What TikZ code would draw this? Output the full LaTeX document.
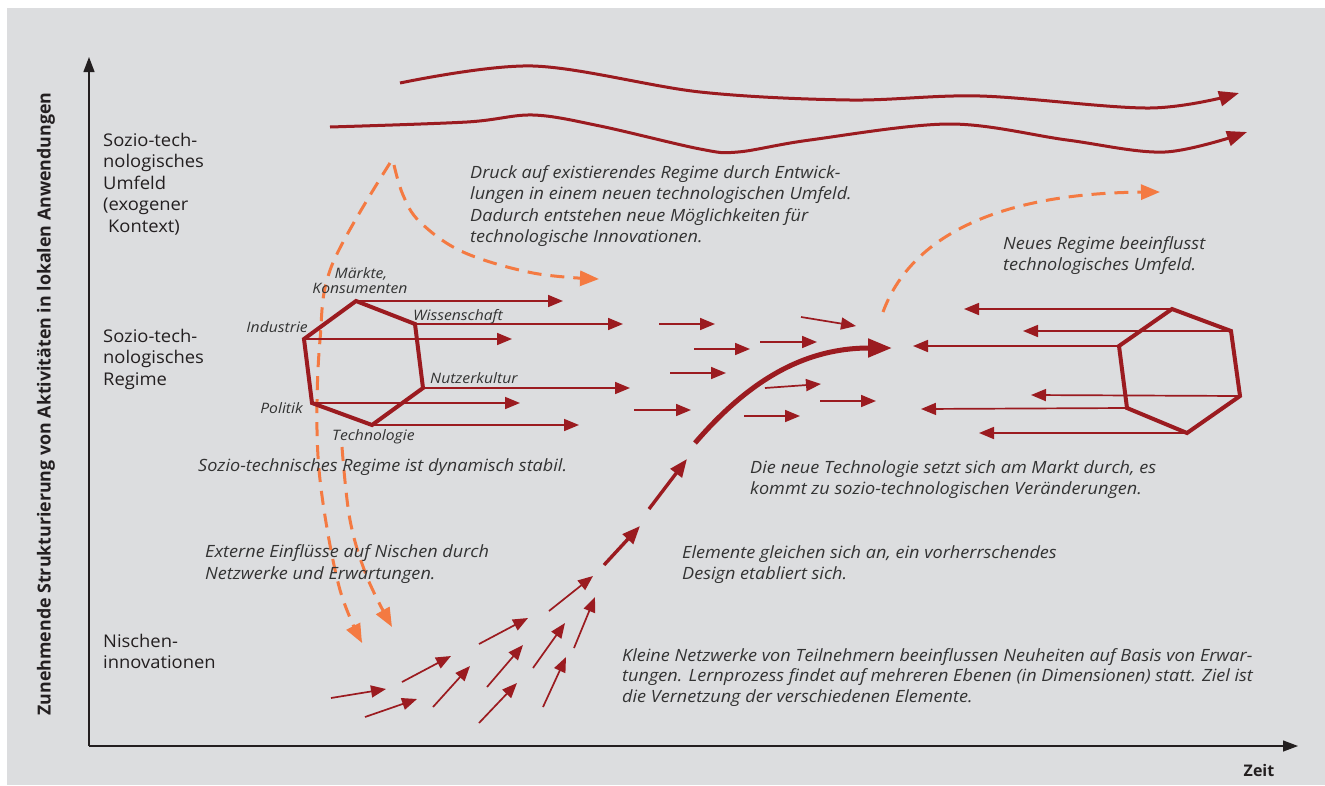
\documentclass[tikz,border=0pt]{standalone}
\usepackage{graphicx}
\usepackage{fontspec}
\setmainfont{Open Sans}
\newfontfamily\itf{Open Sans}[FakeStretch=1.07]
\newfontfamily\hxf{Open Sans}[FakeStretch=1.09]
\newfontfamily\lbf{Open Sans}[FakeStretch=1.05]
\usetikzlibrary{arrows.meta}
\definecolor{bg}{HTML}{DCDDDF}
\definecolor{dred}{HTML}{9B1B20}
\definecolor{orng}{HTML}{F47A42}
\definecolor{txt}{HTML}{333333}
\definecolor{axcol}{HTML}{231F20}
\tikzset{
  thinarr/.style={draw=dred, line width=1.7pt, -{Triangle[length=15pt,width=12pt]}},
  thickarr/.style={draw=dred, line width=3.4pt, -{Triangle[length=18pt,width=14pt]}},
  hexline/.style={draw=dred, line width=4pt, line join=miter},
  wave/.style={draw=dred, line width=3pt, -{Triangle[length=20pt,width=15pt]}},
  ordash/.style={draw=orng, line width=3pt, dash pattern=on 14pt off 9pt, -{Triangle[length=19pt,width=15pt]}},
  axisline/.style={draw=axcol, line width=1.3pt, -{Triangle[length=15pt,width=11pt]}},
  itxt/.style={font=\itf\fontsize{16.9}{20}\selectfont\itshape, text=txt, anchor=base west, inner sep=0pt},
  htxt/.style={font=\hxf\fontsize{14.4}{16}\selectfont\itshape, text=txt, inner sep=0pt},
  ltxt/.style={font=\lbf\fontsize{17.5}{21}\selectfont, text=axcol, anchor=base west, inner sep=0pt},
}
\begin{document}
\begin{tikzpicture}[x=1pt,y=-1pt]
\useasboundingbox (0,0) rectangle (1325,785);
\fill[white] (0,0) rectangle (1325,785);
\fill[bg] (7,8) rectangle (1325,785);

% axes
\coordinate (O) at (89,746);
\coordinate (ytop) at (89,57);
\coordinate (xend) at (1298,746);
\draw[axisline] (O) -- (ytop);
\draw[axisline] (O) -- (xend);
\node[font=\fontsize{18}{20}\selectfont\bfseries, text=axcol, rotate=90, inner sep=0pt] (ylab) at (46,404)
  {\resizebox{623pt}{\height}{Zunehmende Strukturierung von Aktivitäten in lokalen Anwendungen}};
\node[font=\fontsize{16}{20}\selectfont\bfseries, text=axcol, anchor=base, inner sep=0pt] (zeit) at (1259,776) {Zeit};

% left labels
\node[ltxt] (l1a) at (103,146) {Sozio-tech-};
\node[ltxt] (l1b) at (103,167) {nologisches};
\node[ltxt] (l1c) at (103,189) {Umfeld};
\node[ltxt] (l1d) at (103,210) {(exogener};
\node[ltxt] (l1e) at (108,232) {Kontext)};
\node[ltxt] (l2a) at (103,342) {Sozio-tech-};
\node[ltxt] (l2b) at (103,363) {nologisches};
\node[ltxt] (l2c) at (103,385) {Regime};
\node[ltxt] (l3a) at (103,647) {Nischen-};
\node[ltxt] (l3b) at (103,668) {innovationen};

% top wavy lines
\draw[wave] plot[smooth, tension=0.55] coordinates {(400,83) (533,66) (700,92) (850,100) (980,96) (1150,108) (1239,93)};
\draw[wave] plot[smooth, tension=0.55] coordinates {(330,127) (467,122) (533,115) (600,126) (700,149) (738,152) (810,140) (950,124) (1067,140) (1165,152) (1247,132)};

% orange dashed curves
\draw[ordash] plot[smooth, tension=0.6] coordinates {(390,163) (332,265) (320,340) (317,430) (323,503) (340,590) (362,643)};
\draw[ordash] plot[smooth, tension=0.6] coordinates {(394,165) (403,195) (420,222) (463,252) (533,273) (599,279)};
\draw[ordash] plot[smooth, tension=0.6] coordinates {(342,447) (350,520) (367,577) (392,627)};
\draw[ordash] (883,312) .. controls (915,225) and (1020,193) .. (1160,192);

% left hexagon
\coordinate (ha) at (356,301);
\coordinate (hb) at (415,324);
\coordinate (hc) at (423,388);
\coordinate (hd) at (372,425);
\coordinate (he) at (312,403);
\coordinate (hf) at (304,339);
\draw[hexline] (ha) -- (hb) -- (hc) -- (hd) -- (he) -- (hf) -- cycle;
\coordinate (hae) at (563,301);
\coordinate (hbe) at (623,324);
\coordinate (hfe) at (512,339);
\coordinate (hce) at (630,388);
\coordinate (hee) at (520,403);
\coordinate (hde) at (579,425);
\draw[thinarr] (ha) -- (hae);
\draw[thinarr] (hb) -- (hbe);
\draw[thinarr] (hf) -- (hfe);
\draw[thinarr] (hc) -- (hce);
\draw[thinarr] (he) -- (hee);
\draw[thinarr] (hd) -- (hde);

% hexagon labels
\node[htxt, anchor=base] (mk1) at (361,278) {Märkte,};
\node[htxt, anchor=base] (mk2) at (360,293) {Konsumenten};
\node[htxt, anchor=base east] (ind) at (308,332) {Industrie};
\node[htxt, anchor=base west] (wis) at (413,320) {Wissenschaft};
\node[htxt, anchor=base west] (nut) at (430,383) {Nutzerkultur};
\node[htxt, anchor=base east] (pol) at (303,413) {Politik};
\node[htxt, anchor=base west] (tec) at (332,440) {Technologie};

% middle arrows
\foreach \i/\ax/\ay/\bx/\by in {1/659/324/715/324, 2/694/349/750/349, 3/760/342/817/342, 4/801/317/856/326, 5/670/373/726/373, 6/634/410/691/410, 7/765/388/821/384, 8/820/401/876/401, 9/744/416/800/416}{
  \coordinate (ms\i) at (\ax,\ay);
  \coordinate (me\i) at (\bx,\by);
  \draw[thinarr] (ms\i) -- (me\i);
}

% bottom arrows
\foreach \i/\ax/\ay/\bx/\by in {1/331/698/386/689, 2/365/717/417/699, 3/402/682/451/656, 4/433/707/470/666, 5/479/723/517/683, 6/479/644/528/618, 7/487/687/523/645, 8/533/668/565/623, 9/543/707/566/657, 10/549/611/593/576, 11/574/648/595/597}{
  \coordinate (bs\i) at (\ax,\ay);
  \coordinate (be\i) at (\bx,\by);
  \draw[thinarr] (bs\i) -- (be\i);
}
\coordinate (ts1) at (604,565);
\coordinate (te1) at (640,526);
\coordinate (ts2) at (649,509);
\coordinate (te2) at (687,459);
\draw[thickarr] (ts1) -- (te1);
\draw[thickarr] (ts2) -- (te2);

% big curve
\coordinate (cs) at (695,443);
\coordinate (ce) at (892,348);
\draw[draw=dred, line width=5pt, -{Triangle[length=24pt,width=18pt]}] (cs) .. controls (745,385) and (800,348) .. (ce);

% right hexagon
\coordinate (ra) at (1172,309);
\coordinate (rb) at (1231,331);
\coordinate (rc) at (1240,396);
\coordinate (rd) at (1187,433);
\coordinate (re) at (1127,408);
\coordinate (rf) at (1119,346);
\draw[hexline] (ra) -- (rb) -- (rc) -- (rd) -- (re) -- (rf) -- cycle;
\coordinate (rae) at (964,309);
\coordinate (rbe) at (1023,331);
\coordinate (rfe) at (913,346);
\coordinate (rce) at (1031,395);
\coordinate (ree) at (921,409);
\coordinate (rde) at (979,433);
\draw[thinarr] (ra) -- (rae);
\draw[thinarr] (rb) -- (rbe);
\draw[thinarr] (rf) -- (rfe);
\draw[thinarr] (rc) -- (rce);
\draw[thinarr] (re) -- (ree);
\draw[thinarr] (rd) -- (rde);

% italic texts
\node[itxt] (d1) at (470,178) {Druck auf existierendes Regime durch Entwick-};
\node[itxt] (d2) at (470,199.5) {lungen in einem neuen technologischen Umfeld.};
\node[itxt] (d3) at (470,221) {Dadurch entstehen neue Möglichkeiten für};
\node[itxt] (d4) at (470,242.5) {technologische Innovationen.};
\node[itxt] (n1) at (1003,249) {Neues Regime beeinflusst};
\node[itxt] (n2) at (1003,270) {technologisches Umfeld.};
\node[itxt] (s1) at (198,471) {Sozio-technisches Regime ist dynamisch stabil.};
\node[itxt] (t1) at (750,473) {Die neue Technologie setzt sich am Markt durch, es};
\node[itxt] (t2) at (750,494) {kommt zu sozio-technologischen Veränderungen.};
\node[itxt] (e1) at (205,557) {Externe Einflüsse auf Nischen durch};
\node[itxt] (e2) at (205,579) {Netzwerke und Erwartungen.};
\node[itxt] (g1) at (682,558) {Elemente gleichen sich an, ein vorherrschendes};
\node[itxt] (g2) at (682,579) {Design etabliert sich.};
\node[itxt] (k1) at (622,661) {Kleine Netzwerke von Teilnehmern beeinflussen Neuheiten auf Basis von Erwar-};
\node[itxt] (k2) at (622,681.5) {tungen. Lernprozess findet auf mehreren Ebenen (in Dimensionen) statt. Ziel ist};
\node[itxt] (k3) at (622,702) {die Vernetzung der verschiedenen Elemente.};
\end{tikzpicture}
\end{document}
